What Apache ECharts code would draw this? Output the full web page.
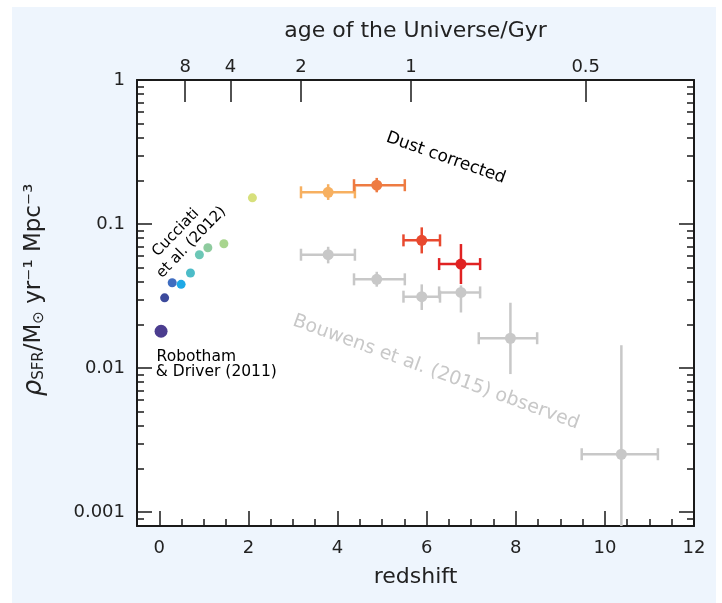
<!DOCTYPE html>
<html><head><meta charset="utf-8">
<script src="https://cdn.jsdelivr.net/npm/echarts@6/dist/echarts.min.js"></script>
<style>
html,body{margin:0;padding:0;background:#fff;}
#bg{position:absolute;left:12px;top:7px;width:704px;height:596px;background:#EEF5FD;}
#chart{position:absolute;left:0;top:0;width:722px;height:603px;}
</style></head><body>
<div id="bg"></div><div id="chart"></div>
<script>
// ---- axis ticks ----
const xMajorTicks = [0, 2, 4, 6, 8, 10, 12];
const xMinorTicks = [0.5, 1, 1.5, 2.5, 3, 3.5, 4.5, 5, 5.5, 6.5, 7, 7.5, 8.5, 9, 9.5, 10.5, 11, 11.5];
const yMajorTicks = [0.001, 0.01, 0.1, 1];
const yTickLabels = ['0.001', '0.01', '0.1', '1'];
const yMinorTicks = [0.0009,
  0.002, 0.003, 0.004, 0.005, 0.006, 0.007, 0.008, 0.009,
  0.02, 0.03, 0.04, 0.05, 0.06, 0.07, 0.08, 0.09,
  0.2, 0.3, 0.4, 0.5, 0.6, 0.7, 0.8, 0.9];
const ageTickZ = [0.58, 1.60, 3.18, 5.65, 9.57];
const ageTickLabels = ['8', '4', '2', '1', '0.5'];

// ---- data ----
const robZ = [0.04];
const robSFR = [0.018];

const cucZ = [0.12, 0.29, 0.49, 0.70, 0.90, 1.09, 1.45, 2.09];
const cucSFR = [0.0307, 0.0391, 0.0381, 0.0457, 0.0612, 0.0684, 0.0730, 0.152];
const cucColors = ['#3C4A9C', '#3F6DC0', '#1EA8E6', '#4CBCC8', '#6CC7B6', '#8ECB9E', '#A8D58E', '#D7E07C'];

const dustZ = [3.79, 4.88, 5.89, 6.77];
const dustZLo = [3.18, 4.37, 5.48, 6.28];
const dustZHi = [4.39, 5.51, 6.30, 7.20];
const dustSFR = [0.166, 0.186, 0.077, 0.0527];
const dustSFRLo = [0.147, 0.166, 0.0625, 0.0383];
const dustSFRHi = [0.189, 0.209, 0.0948, 0.0726];
const dustColors = ['#F7B060', '#EE7B42', '#E8492F', '#E02222'];

const obsZ = [3.79, 4.88, 5.89, 6.77, 7.88, 10.37];
const obsZLo = [3.18, 4.37, 5.48, 6.28, 7.17, 9.48];
const obsZHi = [4.39, 5.51, 6.30, 7.20, 8.48, 11.19];
const obsSFR = [0.0612, 0.0413, 0.0313, 0.0335, 0.0161, 0.00252];
const obsSFRLo = [0.0533, 0.0367, 0.0253, 0.0243, 0.00908, 0.0003];
const obsSFRHi = [0.0695, 0.0466, 0.0381, 0.0375, 0.0284, 0.0144];
const obsColor = '#C8C8C8';

// ---- annotations (data coordinates) ----
const notes = [
  {text: 'Dust corrected', z: 6.43, v: 0.287, rot: -19.5, size: 17, color: '#000', align: 'center'},
  {text: 'Bouwens et al. (2015) observed', z: 6.21, v: 0.00935, rot: -20, size: 19, color: '#C8C8C8', align: 'center'},
  {text: 'Cucciati', z: 0.37, v: 0.0870, rot: 46, size: 15, color: '#000', align: 'center'},
  {text: 'et al. (2012)', z: 0.72, v: 0.0745, rot: 46, size: 15, color: '#000', align: 'center'},
  {text: 'Robotham', z: -0.06, v: 0.0120, rot: 0, size: 15.5, color: '#000', align: 'left'},
  {text: '& Driver (2011)', z: -0.08, v: 0.00945, rot: 0, size: 15.5, color: '#000', align: 'left'}
];

const FONT = '"DejaVu Sans", sans-serif';
const INK = '#1a1a1a';

function nearestIdx(arr, v, useLog) {
  let best = 0, bd = Infinity;
  arr.forEach((a, i) => {
    const d = useLog ? Math.abs(Math.log10(a) - Math.log10(v)) : Math.abs(a - v);
    if (d < bd) { bd = d; best = i; }
  });
  return best;
}

function errRender(colorOf) {
  return function (params, api) {
    const z = api.value(0), y = api.value(1), zl = api.value(2), zh = api.value(3), yl = api.value(4), yh = api.value(5);
    const cs = params.coordSys;
    const pL = api.coord([zl, y]), pH = api.coord([zh, y]);
    const pB = api.coord([z, yl]), pT = api.coord([z, yh]);
    const yb = Math.min(pB[1], cs.y + cs.height), yt = Math.max(pT[1], cs.y);
    const st = {stroke: colorOf(params.dataIndex), lineWidth: 2.5};
    const cap = 6;
    return {type: 'group', children: [
      {type: 'line', shape: {x1: pL[0], y1: pL[1], x2: pH[0], y2: pH[1]}, style: st},
      {type: 'line', shape: {x1: pL[0], y1: pL[1] - cap, x2: pL[0], y2: pL[1] + cap}, style: st},
      {type: 'line', shape: {x1: pH[0], y1: pH[1] - cap, x2: pH[0], y2: pH[1] + cap}, style: st},
      {type: 'line', shape: {x1: pB[0], y1: yb, x2: pT[0], y2: yt}, style: st}
    ]};
  };
}

function rows(a, b, c, d, e, f) { return a.map((_, i) => [a[i], b[i], c[i], d[i], e[i], f[i]]); }

const xBase = {type: 'value', min: -0.5, max: 12, splitLine: {show: false}};
const yBase = {type: 'log', logBase: 10, min: 0.0008, max: 1, splitLine: {show: false}};
const lineOn = {show: true, onZero: false, lineStyle: {color: INK, width: 2}};
const lineOff = {show: false, onZero: false};

const chart = echarts.init(document.getElementById('chart'), null, {renderer: 'canvas'});
chart.setOption({
  backgroundColor: 'transparent',
  animation: false,
  grid: {left: 137, right: 28, top: 80, bottom: 77, show: true, backgroundColor: '#ffffff', borderWidth: 0},
  xAxis: [
    Object.assign({}, xBase, {
      position: 'bottom', axisLine: lineOn,
      axisTick: {show: true, inside: true, length: 15, customValues: xMajorTicks, lineStyle: {color: INK, width: 1.5}},
      axisLabel: {show: true, customValues: xMajorTicks, margin: 13, fontSize: 18, fontFamily: FONT, color: '#222'},
      name: 'redshift', nameLocation: 'middle', nameGap: 40,
      nameTextStyle: {fontSize: 22, fontFamily: FONT, color: '#222'}
    }),
    Object.assign({}, xBase, {
      position: 'bottom', axisLine: lineOff,
      axisTick: {show: true, inside: true, length: 7, customValues: xMinorTicks, lineStyle: {color: INK, width: 1.5}},
      axisLabel: {show: false}
    }),
    Object.assign({}, xBase, {
      position: 'top', axisLine: lineOn,
      axisTick: {show: true, inside: true, length: 22, customValues: ageTickZ, lineStyle: {color: INK, width: 1.5}},
      axisLabel: {show: true, customValues: ageTickZ, margin: 4, fontSize: 18, fontFamily: FONT, color: '#222',
        formatter: v => ageTickLabels[nearestIdx(ageTickZ, v, false)]},
      name: 'age of the Universe/Gyr', nameLocation: 'middle', nameGap: 38,
      nameTextStyle: {fontSize: 22, fontFamily: FONT, color: '#222'}
    })
  ],
  yAxis: [
    Object.assign({}, yBase, {
      position: 'left', axisLine: lineOn,
      axisTick: {show: true, inside: true, length: 15, customValues: yMajorTicks, lineStyle: {color: INK, width: 1.5}},
      axisLabel: {show: true, customValues: yMajorTicks, margin: 12, fontSize: 18, fontFamily: FONT, color: '#222',
        formatter: v => yTickLabels[nearestIdx(yMajorTicks, v, true)]},
      name: '{r|ρ}{s|SFR}/M{s|⊙} yr⁻¹ Mpc⁻³', nameLocation: 'middle', nameGap: 90, nameRotate: 90,
      nameTextStyle: {fontSize: 23, fontFamily: FONT, color: '#222', padding: [0, 0, 0, 26],
        rich: {
          r: {fontSize: 26, fontFamily: FONT, fontStyle: 'italic', color: '#222'},
          s: {fontSize: 15, fontFamily: FONT, color: '#222', verticalAlign: 'bottom', padding: [10, 0, 0, 0]}
        }}
    }),
    Object.assign({}, yBase, {
      position: 'left', axisLine: lineOff,
      axisTick: {show: true, inside: true, length: 7, customValues: yMinorTicks, lineStyle: {color: INK, width: 1.5}},
      axisLabel: {show: false}
    }),
    Object.assign({}, yBase, {
      position: 'right', axisLine: lineOn,
      axisTick: {show: true, inside: true, length: 15, customValues: yMajorTicks, lineStyle: {color: INK, width: 1.5}},
      axisLabel: {show: false}
    }),
    Object.assign({}, yBase, {
      position: 'right', axisLine: lineOff,
      axisTick: {show: true, inside: true, length: 7, customValues: yMinorTicks, lineStyle: {color: INK, width: 1.5}},
      axisLabel: {show: false}
    })
  ],
  series: [
    {
      name: 'Bouwens et al. (2015) observed errors', type: 'custom', xAxisIndex: 0, yAxisIndex: 0, z: 2,
      renderItem: errRender(() => obsColor),
      encode: {x: 0, y: 1},
      data: rows(obsZ, obsSFR, obsZLo, obsZHi, obsSFRLo, obsSFRHi)
    },
    {
      name: 'Bouwens et al. (2015) observed', type: 'scatter', xAxisIndex: 0, yAxisIndex: 0, z: 3,
      symbolSize: 11, itemStyle: {color: obsColor, opacity: 1},
      data: obsZ.map((z, i) => [z, obsSFR[i]])
    },
    {
      name: 'Dust corrected errors', type: 'custom', xAxisIndex: 0, yAxisIndex: 0, z: 4,
      renderItem: errRender(i => dustColors[i]),
      encode: {x: 0, y: 1},
      data: rows(dustZ, dustSFR, dustZLo, dustZHi, dustSFRLo, dustSFRHi)
    },
    {
      name: 'Dust corrected', type: 'scatter', xAxisIndex: 0, yAxisIndex: 0, z: 5,
      symbolSize: 11,
      data: dustZ.map((z, i) => ({value: [z, dustSFR[i]], itemStyle: {color: dustColors[i], opacity: 1}}))
    },
    {
      name: 'Cucciati et al. (2012)', type: 'scatter', xAxisIndex: 0, yAxisIndex: 0, z: 5,
      symbolSize: 9,
      data: cucZ.map((z, i) => ({value: [z, cucSFR[i]], itemStyle: {color: cucColors[i], opacity: 1}}))
    },
    {
      name: 'Robotham & Driver (2011)', type: 'scatter', xAxisIndex: 0, yAxisIndex: 0, z: 5,
      symbolSize: 13, itemStyle: {color: '#4B3D8F', opacity: 1},
      data: robZ.map((z, i) => [z, robSFR[i]])
    }
  ]
});

const gfx = notes.map(n => {
  const p = chart.convertToPixel({xAxisIndex: 0, yAxisIndex: 0}, [n.z, n.v]);
  return {
    type: 'text', x: p[0], y: p[1], rotation: n.rot * Math.PI / 180, z: 10,
    style: {text: n.text, font: n.size + 'px ' + FONT, fill: n.color,
      textAlign: n.align, textVerticalAlign: 'middle', align: n.align, verticalAlign: 'middle'}
  };
});
chart.setOption({graphic: gfx});
</script>
</body></html>
